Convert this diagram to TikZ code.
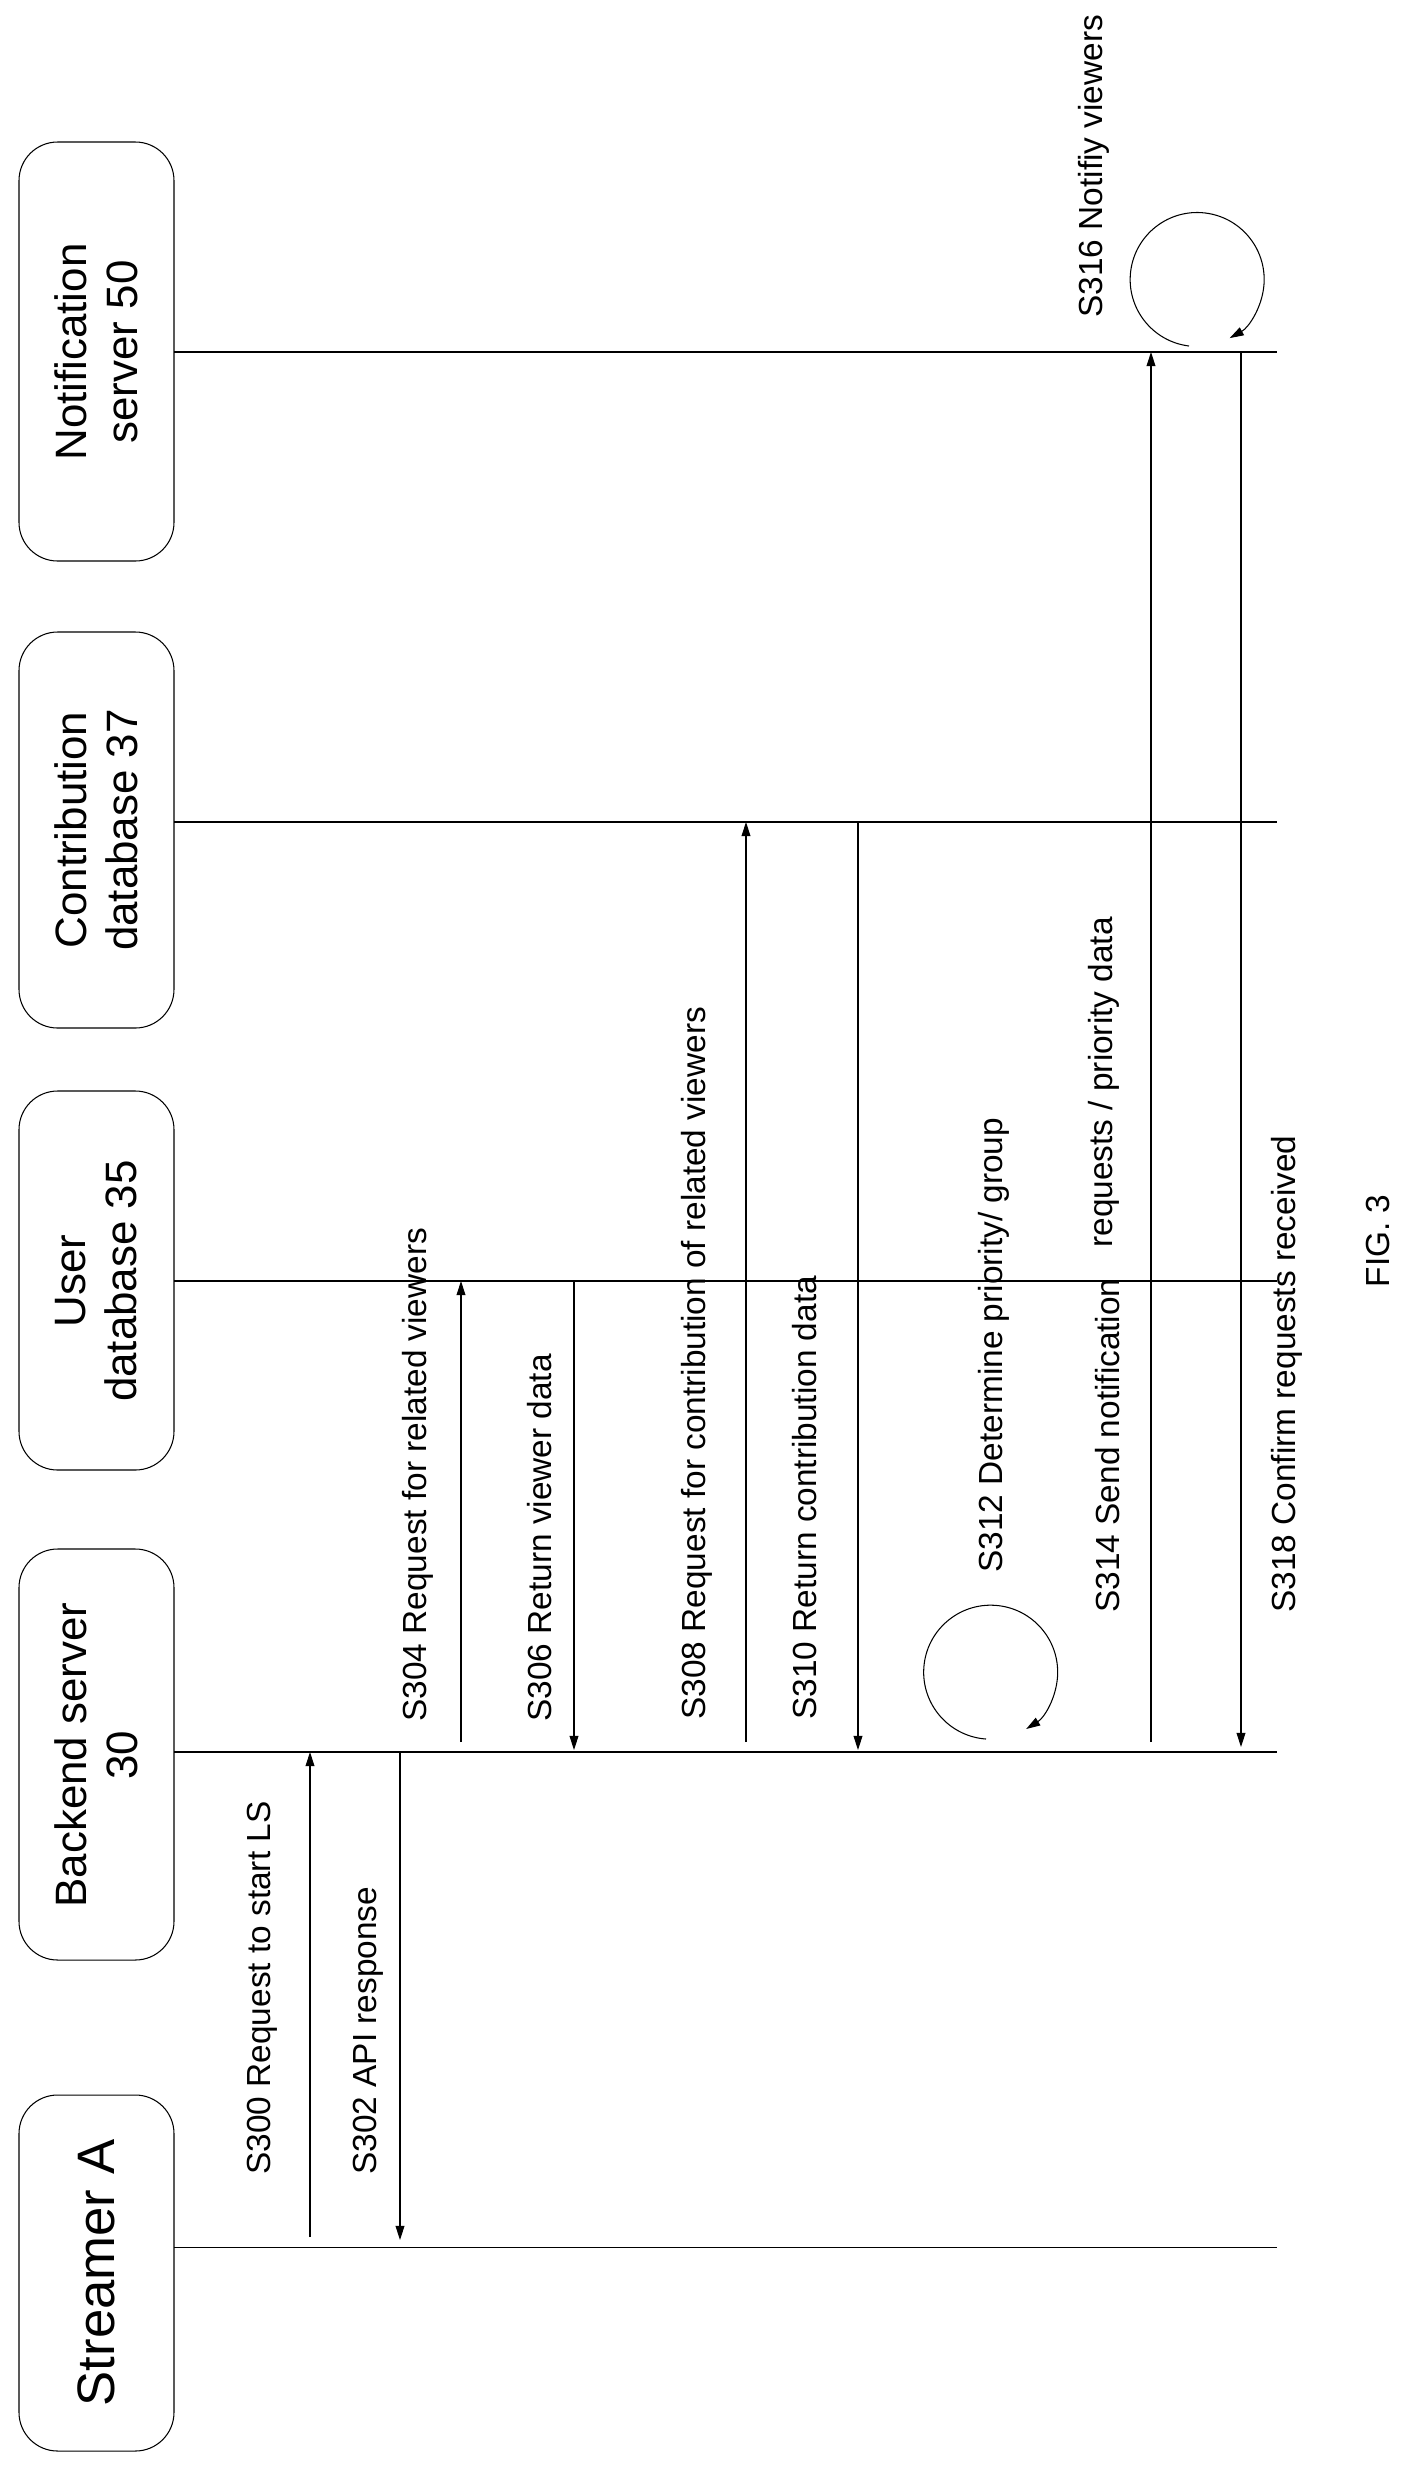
\documentclass[tikz,border=0pt]{standalone}
\usepackage{fontspec}
\setmainfont{Liberation Sans}
\usetikzlibrary{arrows.meta}
\begin{document}
\begin{tikzpicture}[x=0.02cm,y=-0.02cm,line width=0.6pt,
 actor/.style={draw,rounded corners=22pt},
 alab/.style={rotate=90,align=center,font=\fontsize{25}{29}\selectfont},
 lab/.style={rotate=90,anchor=base west,inner sep=0pt,font=\fontsize{19}{22}\selectfont},
 msg/.style={-{Triangle[length=8pt,width=5pt]}}]
\useasboundingbox (0,0) rectangle (1407,2476);
% actors
\draw[actor] (19,2095) rectangle (174,2451);
\node[alab,font=\fontsize{30}{34}\selectfont] (sa) at (96,2273) {Streamer A};
\draw[actor] (19,1549) rectangle (174,1960);
\node[alab] (bs) at (96,1755) {Backend server\\30};
\draw[actor] (19,1091) rectangle (174,1470);
\node[alab] (ud) at (96,1281) {User\\database 35};
\draw[actor] (19,632) rectangle (174,1028);
\node[alab] (cd) at (96,830) {Contribution\\database 37};
\draw[actor] (19,142) rectangle (174,561);
\node[alab] (ns) at (96,352) {Notification\\server 50};
% lifelines
\coordinate (La1) at (174,2247); \coordinate (La2) at (1277,2247);
\coordinate (Lb1) at (174,1752); \coordinate (Lb2) at (1277,1752);
\coordinate (Lu1) at (174,1281); \coordinate (Lu2) at (1277,1281);
\coordinate (Lc1) at (174,822); \coordinate (Lc2) at (1277,822);
\coordinate (Ln1) at (174,352); \coordinate (Ln2) at (1277,352);
\draw (La1)--(La2); \draw (Lb1)--(Lb2); \draw (Lu1)--(Lu2); \draw (Lc1)--(Lc2); \draw (Ln1)--(Ln2);
% messages
\coordinate (a300) at (310,2237); \coordinate (b300) at (310,1752);
\draw[msg] (a300)--(b300);
\node[lab] (t300) at (270,2175) {S300 Request to start LS};
\coordinate (a302) at (400,1752); \coordinate (b302) at (400,2240);
\draw[msg] (a302)--(b302);
\node[lab] (t302) at (376,2175) {S302 API response};
\coordinate (a304) at (461,1742); \coordinate (b304) at (461,1281);
\draw[msg] (a304)--(b304);
\node[lab] (t304) at (426,1722) {S304 Request for related viewers};
\coordinate (a306) at (574,1281); \coordinate (b306) at (574,1750);
\draw[msg] (a306)--(b306);
\node[lab] (t306) at (551,1722) {S306 Return viewer data};
\coordinate (a308) at (746,1742); \coordinate (b308) at (746,822);
\draw[msg] (a308)--(b308);
\node[lab] (t308) at (705,1720) {S308 Request for contribution of related viewers};
\coordinate (a310) at (858,822); \coordinate (b310) at (858,1750);
\draw[msg] (a310)--(b310);
\node[lab] (t310) at (816,1720) {S310 Return contribution data};
% S312 loop
\draw[msg] (986,1739) arc[start angle=94,end angle=418,radius=67];
\node[lab] (t312) at (1002,1573) {S312 Determine priority/ group};
\coordinate (a314) at (1151,1742); \coordinate (b314) at (1151,352);
\draw[msg] (a314)--(b314);
\node[lab] (t314) at (1119,1613) {S314 Send notification};
\node[lab] (t314b) at (1112,1248) {requests / priority data};
% S316 loop
\draw[msg] (1189,346) arc[start angle=97,end angle=421,radius=67];
\node[lab] (t316) at (1102,318) {S316 Notifiy viewers};
\coordinate (a318) at (1241,352); \coordinate (b318) at (1241,1747);
\draw[msg] (a318)--(b318);
\node[lab] (t318) at (1295,1613) {S318 Confirm requests received};
\node[rotate=90,font=\fontsize{19}{22}\selectfont] (fig) at (1378,1241) {FIG. 3};
\end{tikzpicture}
\end{document}
